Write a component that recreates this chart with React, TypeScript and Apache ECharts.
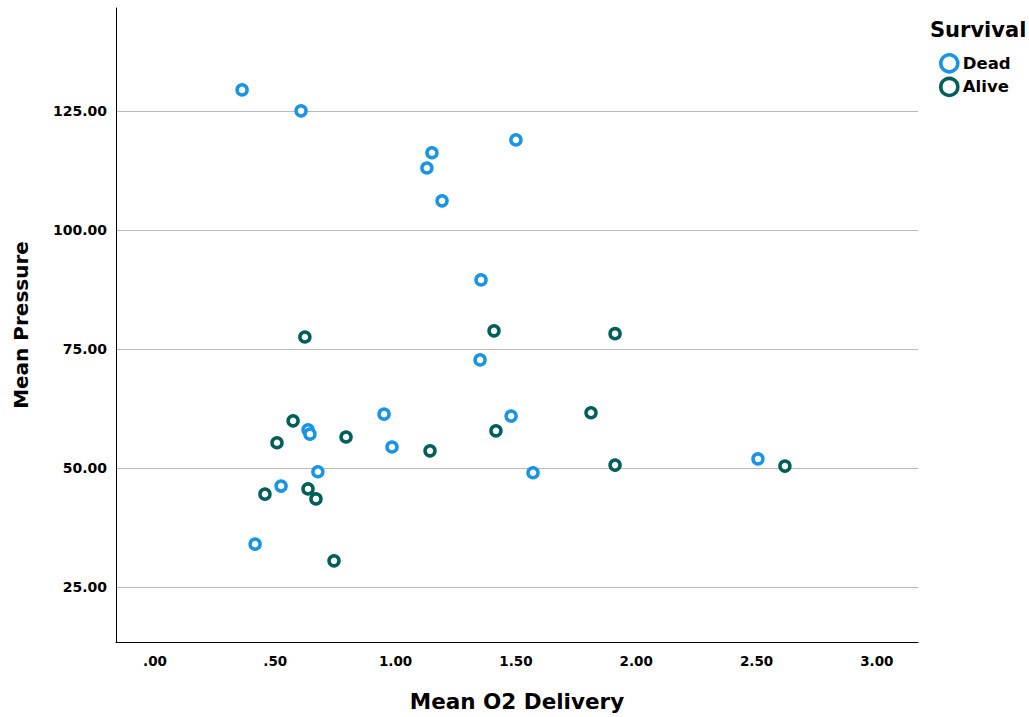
import React, { useEffect, useRef } from "react";
import * as echarts from "echarts";

const deadX = [0.362, 0.607, 1.151, 1.130, 1.500, 1.193, 1.355, 1.351, 0.952, 1.480, 0.636, 0.644, 0.985, 0.677, 1.571, 0.524, 2.506, 0.416];
const deadY = [129.4, 125.0, 116.2, 113.0, 118.9, 106.1, 89.5, 72.7, 61.3, 60.9, 58.0, 57.1, 54.4, 49.2, 49.0, 46.2, 51.9, 34.0];
const aliveX = [0.623, 1.409, 1.912, 0.574, 0.507, 0.794, 1.143, 1.417, 1.812, 1.912, 2.618, 0.457, 0.636, 0.669, 0.744];
const aliveY = [77.5, 78.8, 78.2, 59.9, 55.3, 56.5, 53.6, 57.8, 61.6, 50.6, 50.4, 44.5, 45.6, 43.5, 30.5];
const xTicks = [0, 0.5, 1, 1.5, 2, 2.5, 3];
const yTicks = [25, 50, 75, 100, 125];

const FONT = "'DejaVu Sans', 'Liberation Sans', Arial, sans-serif";
const fmt = (v: number) => {
  const s = v.toFixed(2);
  return s.startsWith("0.") ? s.slice(1) : s;
};

export default function App() {
  const ref = useRef<HTMLDivElement>(null);
  useEffect(() => {
    if (!ref.current) return;
    const chart = echarts.init(ref.current, null, { renderer: "svg" });
    const dead = deadX.map((x, i) => [x, deadY[i]]);
    const alive = aliveX.map((x, i) => [x, aliveY[i]]);
    chart.setOption({
      animation: false,
      backgroundColor: "#ffffff",
      title: {
        text: "Survival",
        left: 925,
        top: 14,
        textStyle: { fontFamily: FONT, fontWeight: "bold", fontSize: 21, color: "#000" },
      },
      legend: {
        orient: "vertical",
        left: 934,
        top: 48,
        itemGap: 3,
        itemWidth: 17,
        itemHeight: 17,
        icon: "circle",
        itemStyle: { borderWidth: 3.6 },
        textStyle: { fontFamily: FONT, fontWeight: "bold", fontSize: 16.5, color: "#000", padding: [0, 0, 0, 0] },
        data: ["Dead", "Alive"],
      },
      grid: { left: 116, right: 111, top: 8, bottom: 75, containLabel: false, outerBoundsMode: "none" },
      xAxis: {
        type: "value",
        min: -0.162,
        max: 3.171,
        name: "Mean O2 Delivery",
        nameLocation: "middle",
        nameGap: 48,
        nameTextStyle: { fontFamily: FONT, fontWeight: "bold", fontSize: 21.5, color: "#000" },
        axisLine: { show: true, onZero: false, lineStyle: { color: "#000", width: 1 } },
        axisTick: { show: false, customValues: xTicks },
        splitLine: { show: false },
        axisLabel: {
          customValues: xTicks,
          formatter: (v: number) => fmt(v),
          fontFamily: FONT,
          fontWeight: "bold",
          fontSize: 13.5,
          color: "#000",
          margin: 12,
        },
      },
      yAxis: {
        type: "value",
        min: 13.45,
        max: 146.6,
        name: "Mean Pressure",
        nameLocation: "middle",
        nameGap: 85,
        nameRotate: 90,
        nameTextStyle: { fontFamily: FONT, fontWeight: "bold", fontSize: 20, color: "#000" },
        axisLine: { show: true, onZero: false, lineStyle: { color: "#000", width: 1 } },
        axisTick: { show: false, customValues: yTicks },
        splitLine: { show: true, lineStyle: { color: "#b9b9b9", width: 1 } },
        axisLabel: {
          customValues: yTicks,
          formatter: (v: number) => fmt(v),
          fontFamily: FONT,
          fontWeight: "bold",
          fontSize: 14,
          color: "#000",
          margin: 9,
        },
      },
      series: [
        {
          name: "Dead",
          type: "scatter",
          data: dead,
          symbol: "circle",
          symbolSize: 10,
          itemStyle: { color: "#ffffff", borderColor: "#1a94e6", borderWidth: 3.5, opacity: 1 },
        },
        {
          name: "Alive",
          type: "scatter",
          data: alive,
          symbol: "circle",
          symbolSize: 10,
          itemStyle: { color: "#ffffff", borderColor: "#005f5a", borderWidth: 3.5, opacity: 1 },
        },
      ],
    });
    return () => chart.dispose();
  }, []);
  return (
    <div
      ref={ref}
      style={{ position: "fixed", left: 0, top: 0, width: 1029, height: 717 }}
    />
  );
}
